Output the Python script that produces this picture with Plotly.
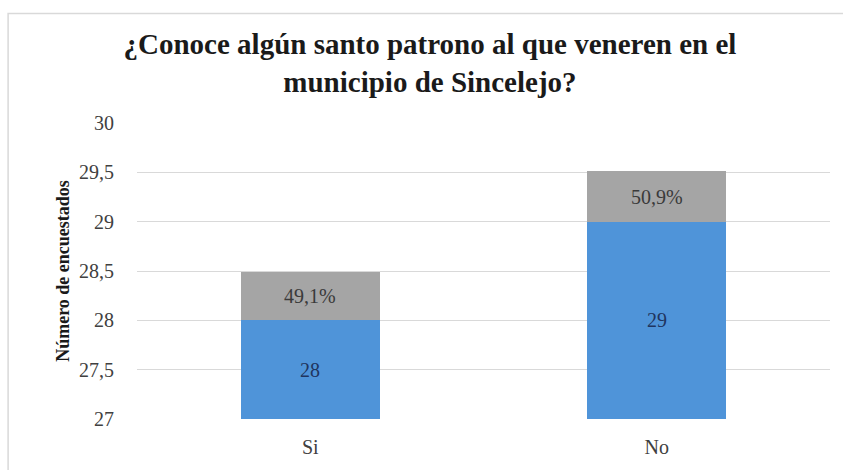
import plotly.graph_objects as go

# Survey answers and counts
categories = ["Si", "No"]
respondents = [28, 29]
share = [0.491, 0.509]  # fraction of respondents, stacked on top of the count

y_min, y_max = 27, 30
tick_values = [27, 27.5, 28, 28.5, 29, 29.5, 30]
tick_labels = ["27", "27,5", "28", "28,5", "29", "29,5", "30"]

share_text = [f"{v * 100:.1f}%".replace(".", ",") for v in share]
count_text = [str(v) for v in respondents]

SERIF = '"Times New Roman", "Liberation Serif", Times, serif'
NO_TICK = "rgba(0,0,0,0)"

fig = go.Figure()
fig.add_trace(go.Bar(
    x=categories, y=respondents, width=0.4,
    marker=dict(color="#4f94d9", line=dict(width=0)),
    hoverinfo="skip", showlegend=False,
))
fig.add_trace(go.Bar(
    x=categories, y=share, width=0.4,
    marker=dict(color="#a5a5a5", line=dict(width=0)),
    hoverinfo="skip", showlegend=False,
))

# value labels: count in the visible part of the blue bar, share centred in the grey cap
annotations = []
for cat, n, s, nt, st in zip(categories, respondents, share, count_text, share_text):
    annotations.append(dict(x=cat, y=(y_min + n) / 2, text=nt, showarrow=False,
                            font=dict(family=SERIF, size=20, color="#1f3560")))
    annotations.append(dict(x=cat, y=n + s / 2, text=st, showarrow=False,
                            font=dict(family=SERIF, size=20, color="#3a3a3a")))

fig.update_layout(
    width=843, height=470,
    barmode="stack",
    paper_bgcolor="white", plot_bgcolor="white",
    margin=dict(l=137, r=13, t=123, b=48),
    font=dict(family=SERIF, size=20, color="#404040"),
    title=dict(
        text="¿Conoce algún santo patrono al que veneren en el<br>municipio de Sincelejo?",
        x=0.51, xanchor="center", yref="container", y=0.885, yanchor="middle",
        font=dict(family=SERIF, size=29, color="#1a1a1a", weight="bold"),
    ),
    xaxis=dict(
        showgrid=False, showline=False, zeroline=False,
        ticks="outside", ticklen=10, tickcolor=NO_TICK,
        tickfont=dict(family=SERIF, size=20, color="#404040"),
    ),
    yaxis=dict(
        range=[y_min, y_max], tickvals=tick_values, ticktext=tick_labels,
        showgrid=True, gridcolor="#d9d9d9", gridwidth=1,
        zeroline=False, showline=False,
        ticks="outside", ticklen=18, tickcolor=NO_TICK,
        tickfont=dict(family=SERIF, size=20, color="#404040"),
        title=dict(text="Número de encuestados", standoff=4,
                   font=dict(family=SERIF, size=18, color="#1a1a1a", weight="bold")),
    ),
    annotations=annotations,
    shapes=[dict(
        type="rect", xref="paper", yref="paper",
        x0=-0.186, x1=1.05, y0=-0.2, y1=1.37,
        fillcolor="rgba(0,0,0,0)",
        line=dict(color="#d9d9d9", width=1.5), layer="below",
    )],
)

fig.write_html("out.html")
